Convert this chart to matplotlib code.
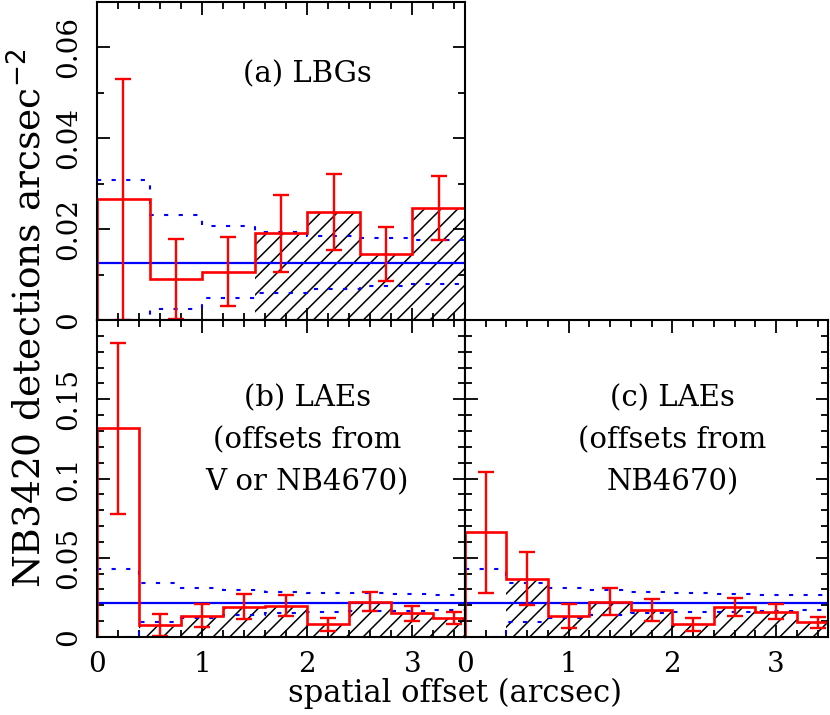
import numpy as np
import matplotlib
matplotlib.use('Agg')
import matplotlib.pyplot as plt
from matplotlib.ticker import MultipleLocator, FuncFormatter

plt.rcParams['font.family'] = 'DejaVu Serif'
plt.rcParams['hatch.linewidth'] = 1.1

# bins (arcsec)
edges_a = [0, 0.5, 1.0, 1.5, 2.0, 2.5, 3.0, 3.5]
edges_bc = [0, 0.4, 0.8, 1.2, 1.6, 2.0, 2.4, 2.8, 3.2, 3.6]

# (a) LBGs
dens_a = [0.0266, 0.0090, 0.0106, 0.0191, 0.0237, 0.0145, 0.0246]
err_a = [0.0265, 0.0088, 0.0076, 0.0085, 0.0084, 0.0059, 0.0070]
upper_a = [0.0308, 0.0231, 0.0207, 0.0194, 0.0185, 0.0180, 0.0176]
lower_a = [0.0, 0.0024, 0.0048, 0.0060, 0.0068, 0.0075, 0.0079]
mean_a = 0.0125
hatch_from_a = 3   # first hatched bin

# (b) LAEs, offsets from V or NB4670
dens_b = [0.1317, 0.0077, 0.0135, 0.0192, 0.0198, 0.0081, 0.0223, 0.0150, 0.0119]
err_b = [0.0538, 0.0069, 0.0073, 0.0077, 0.0066, 0.0042, 0.0061, 0.0048, 0.0038]
upper_b = [0.0431, 0.0342, 0.0312, 0.0298, 0.0287, 0.0280, 0.0275, 0.0270, 0.0265]
lower_b = [0.0, 0.0094, 0.0123, 0.0140, 0.0150, 0.0158, 0.0164, 0.0167, 0.0170]
mean_b = 0.0213
hatch_from_b = 1

# (c) LAEs, offsets from NB4670
dens_c = [0.0660, 0.0369, 0.0133, 0.0223, 0.0171, 0.0081, 0.0188, 0.0160, 0.0092]
err_c = [0.0380, 0.0165, 0.0075, 0.0083, 0.0067, 0.0042, 0.0058, 0.0047, 0.0037]
upper_c = [0.0431, 0.0342, 0.0310, 0.0296, 0.0285, 0.0280, 0.0272, 0.0266, 0.0262]
lower_c = [0.0, 0.0094, 0.0123, 0.0140, 0.0150, 0.0156, 0.0160, 0.0165, 0.0170]
mean_c = 0.0213
hatch_from_c = 1

labels = ['(a) LBGs', '(b) LAEs\n(offsets from\nV or NB4670)', '(c) LAEs\n(offsets from\nNB4670)']

RED = '#ff0000'
BLUE = '#0000ff'


def fmt(v, pos):
    v = round(v, 4)
    return '0' if v == 0 else '%g' % v


def panel(ax, edges, dens, err, upper, lower, mean, hatch_from, label, text_y):
    edges = np.array(edges)
    dens = np.array(dens)
    err = np.array(err)
    left = edges[:-1]
    width = np.diff(edges)
    centers = left + width / 2
    # hatched bins
    ax.bar(left[hatch_from:], dens[hatch_from:], width=width[hatch_from:], align='edge',
           facecolor='none', edgecolor='black', linewidth=0, hatch='//', zorder=1)
    ax.stairs(upper, edges, baseline=None, color=BLUE, lw=1.5, ls=(0, (2, 5)), zorder=2)
    ax.stairs(lower, edges, baseline=None, color=BLUE, lw=1.5, ls=(0, (2, 5)), zorder=2)
    ax.axhline(mean, color=BLUE, lw=1.6, zorder=3)
    ax.stairs(dens, edges, baseline=0, color=RED, lw=1.9, zorder=4)
    ax.errorbar(centers, dens, yerr=[np.minimum(err, dens), err], fmt='none',
                ecolor=RED, elinewidth=1.7, capsize=6, capthick=1.7, zorder=5)
    ax.set_xlim(0, 3.5)
    ax.text(2.0, text_y, label, ha='center', va='center', fontsize=21, linespacing=1.62)
    ax.xaxis.set_major_locator(MultipleLocator(1))
    ax.xaxis.set_minor_locator(MultipleLocator(0.2))
    ax.yaxis.set_minor_locator(MultipleLocator(0.01))
    ax.yaxis.set_major_formatter(FuncFormatter(fmt))
    ax.tick_params(which='both', direction='in', top=True, right=True, width=1.3)
    ax.tick_params(axis='x', labelsize=20, pad=10)
    ax.tick_params(axis='y', labelsize=20, pad=11)
    ax.tick_params(which='major', length=9)
    ax.tick_params(which='minor', length=5)
    for s in ax.spines.values():
        s.set_linewidth(1.5)
        s.set_zorder(6)


fig = plt.figure(figsize=(8.3, 7.15), dpi=100)
W = 830.0
H = 715.0
ax_a = fig.add_axes([97 / W, 1 - 320 / H, 368 / W, 318 / H])
ax_b = fig.add_axes([97 / W, 1 - 637 / H, 368 / W, 317 / H])
ax_c = fig.add_axes([465 / W, 1 - 637 / H, 363 / W, 317 / H])

panel(ax_a, edges_a, dens_a, err_a, upper_a, lower_a, mean_a, hatch_from_a, labels[0], 0.054)
ax_a.set_ylim(0, 0.07)
ax_a.set_yticks([0, 0.02, 0.04, 0.06])
ax_a.tick_params(labelbottom=False)

panel(ax_b, edges_bc, dens_b, err_b, upper_b, lower_b, mean_b, hatch_from_b, labels[1], 0.124)
ax_b.set_ylim(0, 0.2)
ax_b.set_yticks([0, 0.05, 0.1, 0.15])

panel(ax_c, edges_bc, dens_c, err_c, upper_c, lower_c, mean_c, hatch_from_c, labels[2], 0.124)
ax_c.set_ylim(0, 0.2)
ax_c.set_yticks([0, 0.05, 0.1, 0.15])
ax_c.tick_params(labelleft=False)

for ax in (ax_a, ax_b, ax_c):
    for t in ax.get_yticklabels():
        t.set_rotation(90)
        t.set_va('center')

fig.text(455 / W, 1 - 693 / H, 'spatial offset (arcsec)', ha='center', va='center', fontsize=22)
fig.text(30 / W, 1 - 318 / H, 'NB3420 detections arcsec$^{-2}$', ha='center', va='center',
         rotation=90, fontsize=27)

fig.savefig('out.png', dpi=100)
